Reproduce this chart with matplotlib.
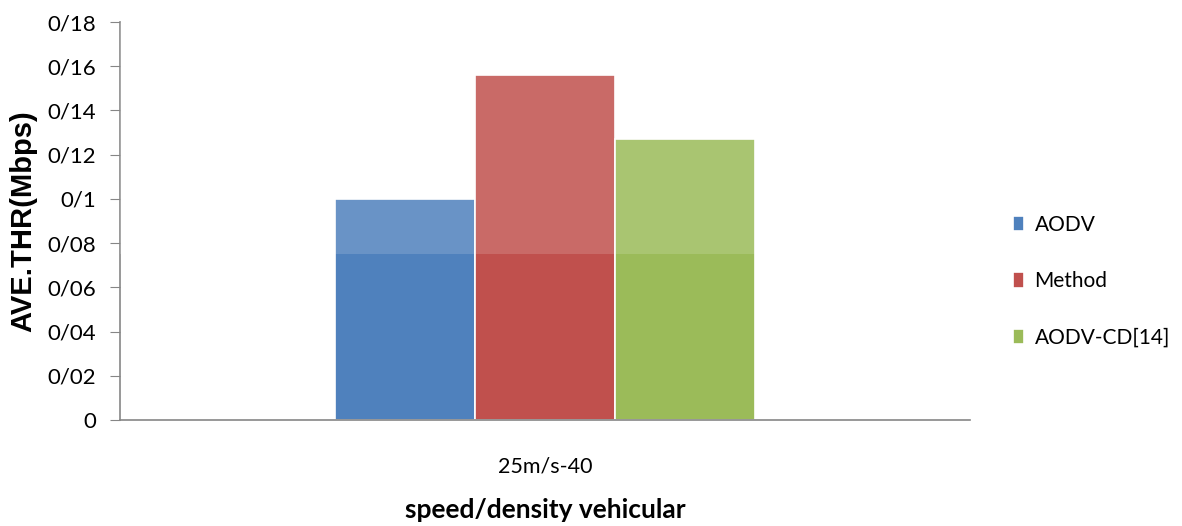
import matplotlib.pyplot as plt
from matplotlib.ticker import FuncFormatter

category = "25m/s-40"
methods = ["AODV", "Method", "AODV-CD[14]"]
throughput = [0.100, 0.156, 0.127]
colors = ["#4F81BD", "#C0504D", "#9BBB59"]
y_ticks = [0, 0.02, 0.04, 0.06, 0.08, 0.10, 0.12, 0.14, 0.16, 0.18]


def persian_decimal(v, pos):
    # the source writes decimals with a slash: 0/12
    if v == 0:
        return "0"
    return ("%.2f" % v).rstrip("0").replace(".", "/")


fig = plt.figure(figsize=(11.82, 5.26), dpi=100)
ax = fig.add_axes([120 / 1182, 1 - 420 / 526, 850 / 1182, 398 / 526])

width = 0.165
for i, (name, val, c) in enumerate(zip(methods, throughput, colors)):
    x = (i - 1) * width
    ax.bar(x, val, width=width, color=c, edgecolor="white", linewidth=1.2,
           label=name, zorder=2)

# the scanned image has a faint watermark lightening the upper part
ax.axhspan(0.075, 0.18, color="white", alpha=0.15, zorder=3, lw=0)

ax.set_xlim(-0.5, 0.5)
ax.set_ylim(0, 0.18)
ax.set_yticks(y_ticks)
ax.yaxis.set_major_formatter(FuncFormatter(persian_decimal))
ax.set_xticks([0])
ax.set_xticklabels([category])

for s in ["top", "right"]:
    ax.spines[s].set_visible(False)
for s in ["left", "bottom"]:
    ax.spines[s].set_color("#868686")
    ax.spines[s].set_linewidth(1.2)

ax.tick_params(axis="y", length=7, color="#868686", labelsize=16, pad=10,
               labelfontfamily="Lato")
ax.tick_params(axis="x", length=0, labelsize=15.5, pad=26, labelfontfamily="Lato")

ax.set_ylabel("AVE.THR(Mbps)", fontsize=21, fontweight="bold",
              family="Liberation Sans")
ax.yaxis.set_label_coords(-0.097, 0.5)
ax.set_xlabel("speed/density vehicular", fontsize=19, fontweight="bold",
              family="Lato", labelpad=16)

leg = fig.legend(loc="upper left", bbox_to_anchor=(994 / 1182, 1 - 196 / 526),
                 frameon=False, handlelength=0.55, handleheight=0.75,
                 handletextpad=0.5, labelspacing=1.75, prop={"family": "Lato", "size": 15})

fig.savefig("out.png", dpi=100)
